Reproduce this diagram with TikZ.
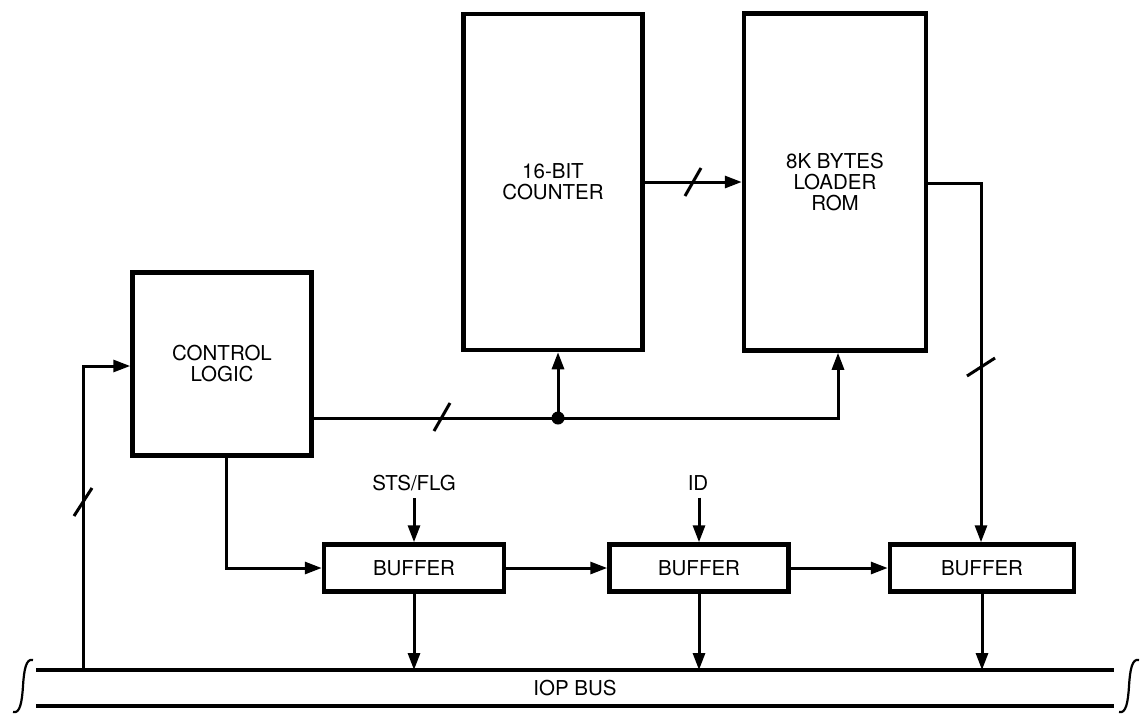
\documentclass[tikz,border=0pt]{standalone}
\usepackage{fontspec}
\setmainfont{TeX Gyre Heros}
\usetikzlibrary{arrows.meta}
\begin{document}
\begin{tikzpicture}[x=1pt,y=-1pt,
  box/.style={draw, line width=4.5pt, inner sep=0pt, align=center, font=\fontsize{20.5}{21}\selectfont},
  conn/.style={line width=3pt},
  arr/.style={conn, -{Triangle[length=17pt,width=12pt]}},
  lbl/.style={font=\fontsize{20.5}{21}\selectfont, inner sep=0pt},
  slashmark/.style={line width=3pt},
  busline/.style={line width=3.5pt},
  integ/.style={line width=2.2pt}
]
\useasboundingbox (0,0) rectangle (1140,713);

% blocks
\node[box, minimum width=179pt, minimum height=336pt] (ctr) at (553,182) {16-BIT\\COUNTER};
\node[box, minimum width=182pt, minimum height=337pt] (rom) at (835,182) {8K BYTES\\LOADER\\ROM};
\node[box, minimum width=179pt, minimum height=183pt] (ctl) at (222,364) {CONTROL\\LOGIC};
\node[box, minimum width=180pt, minimum height=47pt] (b1) at (414,568) {BUFFER};
\node[box, minimum width=179pt, minimum height=47pt] (b2) at (699,568) {BUFFER};
\node[box, minimum width=184pt, minimum height=47pt] (b3) at (982,568) {BUFFER};

% bus
\coordinate (bl1) at (36,670);
\coordinate (br1) at (1114,670);
\coordinate (bl2) at (36,706);
\coordinate (br2) at (1114,706);
\draw[busline] (bl1) -- (br1);
\draw[busline] (bl2) -- (br2);
\node[lbl] (iop) at (575,688) {IOP BUS};
\draw[integ] (33,660) .. controls (26,658) and (24,670) .. (23,686) .. controls (22,702) and (20,714) .. (13,712);
\draw[integ] (1139,660) .. controls (1132,658) and (1130,670) .. (1129,686) .. controls (1128,702) and (1126,714) .. (1119,712);

% counter -> rom
\draw[arr] (ctr.east) -- (rom.west);
\draw[slashmark] (693,182) +(-8,14) -- +(8,-14);

% control logic -> counter / rom
\coordinate (j) at (558,418);
\coordinate (r) at (838,418);
\draw[conn] (ctl.east |- j) -- (j);
\draw[arr] (j) -- (j |- ctr.south);
\draw[arr] (j) -- (r) -- (r |- rom.south);
\fill (j) circle (6.5pt);
\draw[slashmark] (442,417) +(-8,14) -- +(8,-14);

% rom -> buffer 3
\coordinate (ro) at (981,183);
\draw[arr] (rom.east |- ro) -- (ro) -- (ro |- b3.north);
\draw[slashmark] (981,367) +(-14,9) -- +(14,-9);

% control logic -> buffer 1
\coordinate (c1) at (226,568);
\draw[arr] (ctl.south -| c1) -- (c1) -- (b1.west);

% buffer chain
\draw[arr] (b1.east) -- (b2.west);
\draw[arr] (b2.east) -- (b3.west);

% inputs
\node[lbl] (sts) at (414,483) {STS/FLG};
\node[lbl] (id) at (698,483) {ID};
\draw[arr] ([yshift=-7pt]sts.south) -- (b1.north);
\draw[arr] ([yshift=-7pt]id.south -| b2.north) -- (b2.north);

% buffers -> bus
\draw[arr] (b1.south) -- (b1.south |- bl1);
\draw[arr] (b2.south) -- (b2.south |- bl1);
\draw[arr] (b3.south) -- (b3.south |- bl1);

% bus -> control logic
\coordinate (lf) at (83,670);
\coordinate (lc) at (83,366);
\draw[arr] (lf) -- (lc) -- (ctl.west |- lc);
\draw[slashmark] (83,502) +(-9,14) -- +(9,-14);
\end{tikzpicture}
\end{document}
